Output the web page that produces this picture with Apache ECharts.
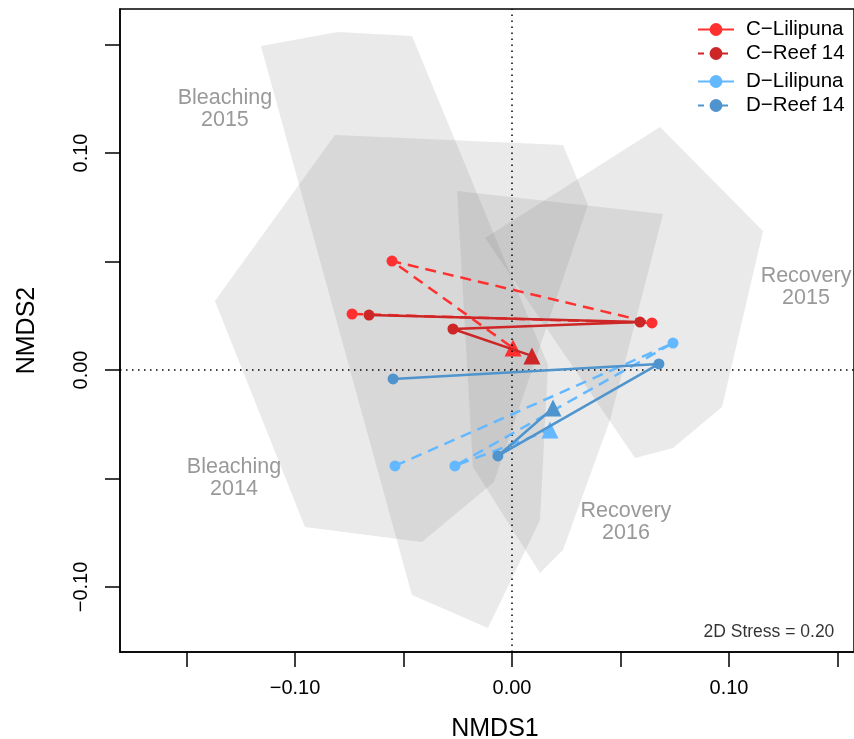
<!DOCTYPE html>
<html><head><meta charset="utf-8">
<script src="https://cdn.jsdelivr.net/npm/echarts@6/dist/echarts.min.js"></script>
<style>html,body{margin:0;padding:0;background:#fff}#c{width:854px;height:739px}</style>
</head><body><div id="c"></div>
<script>
// ---- axis ticks ----
const xTicks = [-0.15, -0.10, -0.05, 0, 0.05, 0.10, 0.15];
const xTickLabels = [-0.10, 0, 0.10];
const yTicks = [-0.10, -0.05, 0, 0.05, 0.10, 0.15];
const yTickLabels = [-0.10, 0, 0.10];

// ---- trajectories (NMDS1, NMDS2); last point = triangle ----
const seriesNames = ['C\u2212Lilipuna', 'C\u2212Reef 14', 'D\u2212Lilipuna', 'D\u2212Reef 14'];
const cLilipuna = [[-0.0737, 0.0258], [0.0645, 0.0217], [-0.0553, 0.0502], [0.0005, 0.0101]];
const cReef14   = [[-0.0659, 0.0253], [0.0590, 0.0221], [-0.0272, 0.0189], [0.0092, 0.0065]];
const dLilipuna = [[-0.0539, -0.0442], [0.0742, 0.0124], [-0.0263, -0.0442], [0.0175, -0.0276]];
const dReef14   = [[-0.0548, -0.0041], [0.0677, 0.0028], [-0.0065, -0.0396], [0.0189, -0.0175]];

// ---- convex hulls ----
const hullBleaching2015 = [[-0.1157, 0.1493], [-0.0802, 0.1558], [-0.0461, 0.1539], [0.0166, 0.0023], [0.0129, -0.0691], [-0.0111, -0.1189], [-0.0461, -0.1037]];
const hullBleaching2014 = [[-0.0816, 0.1083], [0.0235, 0.1037], [0.0350, 0.0760], [-0.0083, -0.0516], [-0.0415, -0.0793], [-0.0954, -0.0724], [-0.1369, 0.0318]];
const hullRecovery2016 = [[-0.0253, 0.0825], [0.0696, 0.0719], [0.0452, -0.0230], [0.0235, -0.0829], [0.0129, -0.0935], [-0.0180, -0.0447]];
const hullRecovery2015 = [[-0.0124, 0.0608], [0.0682, 0.1120], [0.1157, 0.0641], [0.0968, -0.0171], [0.0742, -0.0359], [0.0567, -0.0406]];

// ---- annotations ----
const hullLabelText = ['Bleaching\n2015', 'Bleaching\n2014', 'Recovery\n2015', 'Recovery\n2016'];
const hullLabelPos = [[-0.1323, 0.1203], [-0.1281, -0.0498], [0.1355, 0.0382], [0.0525, -0.0700]];
const stressText = '2D Stress = 0.20';
const stressPos = [0.1184, -0.1207];

const colors = ['#FF3030', '#CD2626', '#63B8FF', '#4F94CD'];
const lineTypes = [[11, 7], 'solid', [11, 7], 'solid'];
const FONT = '"Liberation Sans", Arial, Helvetica, sans-serif';

const hulls = [hullBleaching2015, hullBleaching2014, hullRecovery2016, hullRecovery2015];
const trajs = [cLilipuna, cReef14, dLilipuna, dReef14];

function fmt(v) {
  if (Math.abs(v) < 1e-9) return '0.00';
  return (v < 0 ? '\u2212' : '') + Math.abs(v).toFixed(2);
}

const chart = echarts.init(document.getElementById('c'), null, {renderer: 'canvas'});

const series = [];
series.push({
  type: 'custom', name: 'hulls', z: 1, silent: true,
  data: hulls.map((h, i) => [i]),
  renderItem: function (params, api) {
    const h = hulls[params.dataIndex];
    return {
      type: 'polygon',
      shape: {points: h.map(p => api.coord(p))},
      style: {fill: 'rgba(127,127,127,0.16)', stroke: 'none'}
    };
  }
});
series.push({
  type: 'scatter', name: 'labels', z: 2, silent: true,
  symbolSize: 1, itemStyle: {color: 'rgba(0,0,0,0)'},
  data: hullLabelText.map((t, i) => ({
    value: hullLabelPos[i],
    label: {show: true, position: 'inside', formatter: t, color: '#808080', fontSize: 21.5, lineHeight: 22, fontFamily: FONT, align: 'center'}
  })).concat([{
    value: stressPos,
    label: {show: true, position: 'inside', formatter: stressText, color: '#000', fontSize: 17.5, fontFamily: FONT}
  }])
});
series.push({
  type: 'line', name: 'zero', z: 3, silent: true, data: [],
  markLine: {
    silent: true, symbol: ['none', 'none'], animation: false,
    label: {show: false},
    lineStyle: {color: '#000', type: [1.5, 4.5], width: 1.5},
    emphasis: {disabled: true},
    data: [{xAxis: 0}, {yAxis: 0}]
  }
});
trajs.forEach((t, k) => {
  series.push({
    type: 'line', name: seriesNames[k], z: 4 + k,
    symbol: 'circle', symbolSize: 11, showAllSymbol: true,
    lineStyle: {color: colors[k], width: 2.5, type: lineTypes[k]},
    itemStyle: {color: colors[k]},
    emphasis: {disabled: true},
    data: t.map((p, i) => ({
      value: p,
      symbol: i === t.length - 1 ? 'triangle' : 'circle',
      symbolSize: i === t.length - 1 ? 17 : 11
    }))
  });
});

const legendCommon = {
  orient: 'vertical', left: 692, itemWidth: 36, itemHeight: 16, itemGap: 3,
  textStyle: {fontSize: 20.5, color: '#000', fontFamily: FONT, padding: [0, 0, 0, 7]},
  selectedMode: false
};

chart.setOption({
  animation: false,
  backgroundColor: '#fff',
  grid: {left: 120, right: 0, top: 9, bottom: 87, outerBoundsMode: 'none', containLabel: false,
         show: true, borderColor: '#000', borderWidth: 1.5, backgroundColor: 'transparent'},
  xAxis: {
    type: 'value', min: -392 / 2170, max: 342 / 2170,
    name: 'NMDS1', nameLocation: 'middle', nameGap: 65,
    nameTextStyle: {fontSize: 25, color: '#000', fontFamily: FONT, padding: [0, 0, 0, 16]},
    axisLine: {show: true, onZero: false, lineStyle: {color: '#000', width: 1.5}},
    axisTick: {show: true, length: 15, inside: false, customValues: xTicks, lineStyle: {color: '#000', width: 1.5}},
    axisLabel: {show: true, customValues: xTickLabels, formatter: fmt, margin: 26, fontSize: 20, color: '#000', fontFamily: FONT},
    splitLine: {show: false}
  },
  yAxis: {
    type: 'value', min: -282 / 2170, max: 361 / 2170,
    name: 'NMDS2', nameLocation: 'middle', nameGap: 80, nameRotate: 90,
    nameTextStyle: {fontSize: 25, color: '#000', fontFamily: FONT},
    axisLine: {show: true, onZero: false, lineStyle: {color: '#000', width: 1.5}},
    axisTick: {show: true, length: 15, inside: false, customValues: yTicks, lineStyle: {color: '#000', width: 1.5}},
    axisLabel: {show: true, customValues: yTickLabels, formatter: fmt, rotate: 90, margin: 29, fontSize: 20, color: '#000', fontFamily: FONT},
    splitLine: {show: false}
  },
  legend: [
    Object.assign({}, legendCommon, {
      top: 14,
      data: [
        {name: seriesNames[0], lineStyle: {type: 'solid', width: 2}},
        {name: seriesNames[1], lineStyle: {type: [6, 6], width: 2}}
      ]
    }),
    Object.assign({}, legendCommon, {
      top: 66,
      data: [
        {name: seriesNames[2], lineStyle: {type: 'solid', width: 2}},
        {name: seriesNames[3], lineStyle: {type: [6, 6], width: 2}}
      ]
    })
  ],
  series: series
});
</script></body></html>
